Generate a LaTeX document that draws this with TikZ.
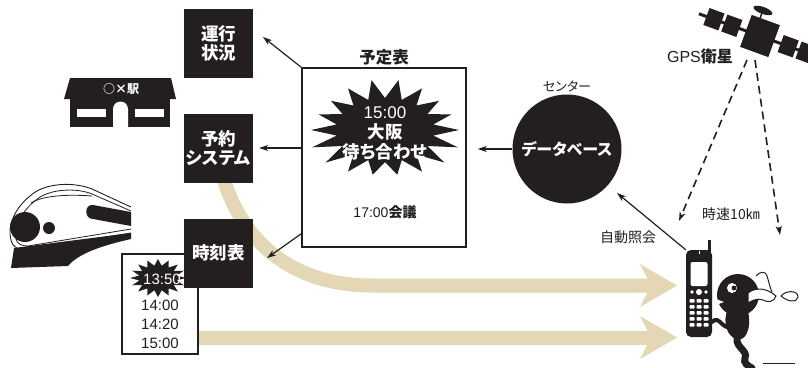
\documentclass[tikz,border=0pt]{standalone}
\usepackage{fontspec}
\setmainfont{Liberation Sans}
\newfontfamily\jp{Noto Sans CJK JP}[RawFeature=+palt]
\usetikzlibrary{arrows.meta,calc}
\definecolor{ink}{HTML}{231F20}
\definecolor{sand}{HTML}{E3D7B5}
\tikzset{
  blackbox/.style={fill=ink, text=white, minimum width=69, minimum height=69,
    inner sep=0, align=center, font=\jp\bfseries\fontsize{17.5}{19.5}\selectfont},
  frame/.style={draw=ink, line width=1.5, inner sep=0},
  arr/.style={draw=ink, line width=1.2, -{Stealth[length=9pt,width=6pt,inset=2.5pt]}},
  gps/.style={draw=ink, line width=1.6, dash pattern=on 8pt off 5pt,
    -{Stealth[length=9pt,width=6pt,inset=2.5pt]}},
  band/.style={draw=sand, line width=14},
  lbl/.style={text=ink, inner sep=0},
}
\begin{document}
\begin{tikzpicture}[x=1pt,y=-1pt]
\clip (0,0) rectangle (808,367);
\fill[white] (0,0) rectangle (808,367);

% ---- wide route arrows (behind everything) ----
\draw[band] (221,170) .. controls (240,242) and (292,285.5) .. (372,285.5) -- (653,285.5);
\fill[sand] (640,264) -- (677,285.5) -- (640,307) -- (651,285.5) -- cycle;
\draw[band] (190,337.5) -- (653,337.5);
\fill[sand] (640,316) -- (677,337.5) -- (640,359) -- (651,337.5) -- cycle;

% ---- station building ----
\fill[ink] (70,78) -- (171,78) -- (176,99) -- (64,99) -- cycle;
\fill[ink] (70,99) rectangle (170,127);
\fill[white] (77,109) rectangle (106,117);
\fill[white] (135,109) rectangle (164,117);
\fill[white] (113,127.5) -- (113,109) arc (180:360:7.5) -- (128,127.5) -- cycle;
\node[text=white, inner sep=0, font=\jp\bfseries\fontsize{12}{14}\selectfont] (stname) at (121,89) {○×駅};

% ---- train nose ----
\draw[ink, fill=white, line width=0.9] (131,207) -- (92,189)
  .. controls (75,182) and (45,182) .. (30,196)
  .. controls (15,208) and (7,226) .. (11,240)
  .. controls (13,248) and (20,251) .. (28,250) -- (131,233);
\draw[ink, line width=0.8] (131,211) -- (92,194)
  .. controls (78,188) and (50,188) .. (36,200)
  .. controls (22,211) and (14,226) .. (16,239)
  .. controls (17,244) and (22,246) .. (28,246) -- (131,229);
\draw[ink, line width=0.8] (31,203) .. controls (42,196) and (65,194) .. (92,196);
\fill[ink] (131,212) -- (93,205) .. controls (84,204) and (84,219) .. (93,219) -- (131,226) -- cycle;
\fill[ink] (25,227) circle (15);
\fill[ink] (49,228) circle (6);
\fill[ink] (14,248) -- (131,233) -- (131,239)
  .. controls (100,246) and (78,254) .. (68,266) -- (11,268) -- cycle;

% ---- timetable card ----
\node[frame, fill=white, minimum width=76, minimum height=100] (ttbox) at (160,304) {};
\begin{scope}[shift={(158,278)}]
  \fill[ink] (0:28 and 19) \foreach \a in {0,22.5,...,337.5}
    { -- (\a:28 and 19) -- (\a+11.25:19 and 12.5) } -- cycle;
\end{scope}
\node[lbl, text=white, font=\fontsize{15}{17}\selectfont] (t1350) at (162,279) {13:50};
\node[lbl, font=\fontsize{15}{17}\selectfont] (t1400) at (160,305) {14:00};
\node[lbl, font=\fontsize{15}{17}\selectfont] (t1420) at (160,324) {14:20};
\node[lbl, font=\fontsize{15}{17}\selectfont] (t1500) at (160,343) {15:00};

% ---- black service boxes ----
\node[blackbox] (ops) at (218.5,43.5) {運行\\状況};
\node[blackbox] (rsv) at (218.5,148) {予約\\システム};
\node[blackbox] (tt) at (218.5,253) {時刻表};

% ---- schedule ----
\node[frame, minimum width=164, minimum height=179] (sched) at (384,157.5) {};
\node[lbl, font=\jp\bfseries\fontsize{16.5}{18}\selectfont] (schedtitle) at (384,57) {予定表};
\begin{scope}[shift={(385,130)}]
  \fill[ink] (0:74 and 48) \foreach \a in {0,20,...,340}
    { -- (\a:{74+4*sin(3*\a)} and {48+3*sin(3*\a)}) -- (\a+10:49 and 32) } -- cycle;
\end{scope}
\node[lbl, text=white, align=center, font=\fontsize{17}{20}\selectfont] (meet) at (385,133)
  {15:00\\{\jp\bfseries\fontsize{17.5}{20}\selectfont 大阪}\\{\jp\bfseries\fontsize{17.5}{20}\selectfont 待ち合わせ}};
\node[lbl, font=\fontsize{14}{16}\selectfont] (meeting) at (385,212) {17:00{\jp\bfseries 会議}};

% ---- data centre ----
\node[circle, fill=ink, minimum size=109, inner sep=0, text=white,
  font=\jp\bfseries\fontsize{16}{18}\selectfont] (db) at (567,149) {データベース};
\node[lbl, font=\jp\fontsize{13}{15}\selectfont] (center) at (567,86) {センター};

% ---- GPS satellite ----
\begin{scope}[rotate around={-20:(760,36)}]
  \draw[ink, line width=3] (695,36) -- (830,36);
  \fill[ink] (745,19) rectangle (775,53);
  \fill[ink] (703,27) rectangle (719,45);
  \fill[ink] (722,27) rectangle (738,45);
  \fill[ink] (782,27) rectangle (798,45);
  \fill[ink] (801,27) rectangle (817,45);
  \draw[ink, line width=1.5] (754,19) -- (754,13);
  \fill[ink] (754,11) ellipse (10 and 3.5);
\end{scope}
\node[lbl, font=\fontsize{16}{18}\selectfont] (gpslabel) at (700,56) {GPS{\jp\bfseries 衛星}};
\coordinate (satL) at (747,60);
\coordinate (satR) at (755,60);
\coordinate (gpsL) at (679,221);
\coordinate (gpsR) at (780,235);
\node[lbl, font=\jp\fontsize{14}{16}\selectfont] (speed) at (731,214) {時速10㎞};

% ---- mobile phone ----
\draw[ink, line width=3] (709,240) -- (709,253);
\node[fill=ink, rounded corners=5, minimum width=26, minimum height=87, inner sep=0] (phone) at (699,293.5) {};
\draw[white, line width=1] (699,251) -- (699,254);
\fill[white, rounded corners=2] (690.5,262) rectangle (707.5,286);
\fill[white] (692,292) circle (1.8);
\fill[white] (699,292) circle (3);
\fill[white] (706,292) circle (1.8);
\foreach \r in {0,...,4}
  \foreach \c in {0,1,2}
    \fill[white, rounded corners=0.8] ({689.5+\c*7},{299+\r*6}) rectangle ++(5,3.6);
\node[lbl, font=\jp\fontsize{14}{16}\selectfont] (query) at (628,237) {自動照会};

% ---- worried walker ----
\draw[ink, line width=4, line cap=round] (712,322) .. controls (720,314) and (722,332) .. (733,326);
\fill[ink] (728,309) .. controls (722,322) and (727,336) .. (736,339)
  .. controls (745,342) and (752,330) .. (748,311) -- cycle;
\draw[ink, line width=7, line cap=round] (739,334) .. controls (731,346) and (749,350) .. (745,358)
  .. controls (743,363) and (748,366) .. (752,368);
\fill[ink] (738,295) circle (21);
\fill[white] (732,288) circle (5);
\fill[ink] (734,288) circle (2.4);
\fill[white] (716,299) -- (724,302) -- (716,305) -- cycle;
\draw[ink, fill=white, line width=1] (748,293) .. controls (757,286) and (768,289) .. (776,296)
  .. controls (774,302) and (768,303) .. (763,300) .. controls (758,298) and (753,300) .. (748,303) -- cycle;
\draw[ink, line width=1] (756,276) .. controls (760,271) and (766,271) .. (767,276)
  .. controls (769,282) and (770,288) .. (772,292);
\draw[ink, fill=white, line width=1] (781,296) .. controls (786,290) and (798,290) .. (798,297)
  .. controls (797,303) and (788,302) .. (781,296) -- cycle;
\draw[ink, line width=1] (763,363) -- (795,363);

% ---- connectors ----
\coordinate (opsIn) at (263,37);
\coordinate (schedNW) at (sched.north west);
\draw[arr] (schedNW) -- (opsIn);
\draw[arr, shorten >=6pt] (sched.west |- rsv.east) -- (rsv.east);
\coordinate (schedLow) at ($(sched.south west)+(0,-14)$);
\coordinate (ttIn) at (267,258);
\draw[arr] (schedLow) -- (ttIn);
\draw[arr, shorten >=11pt] (db.west) -- (sched.east |- db.west);
\coordinate (dbIn) at (617,193);
\draw[arr] (phone.north west) -- (dbIn);
\draw[gps] (satL) -- (gpsL);
\draw[gps] (satR) -- (gpsR);
\end{tikzpicture}
\end{document}
